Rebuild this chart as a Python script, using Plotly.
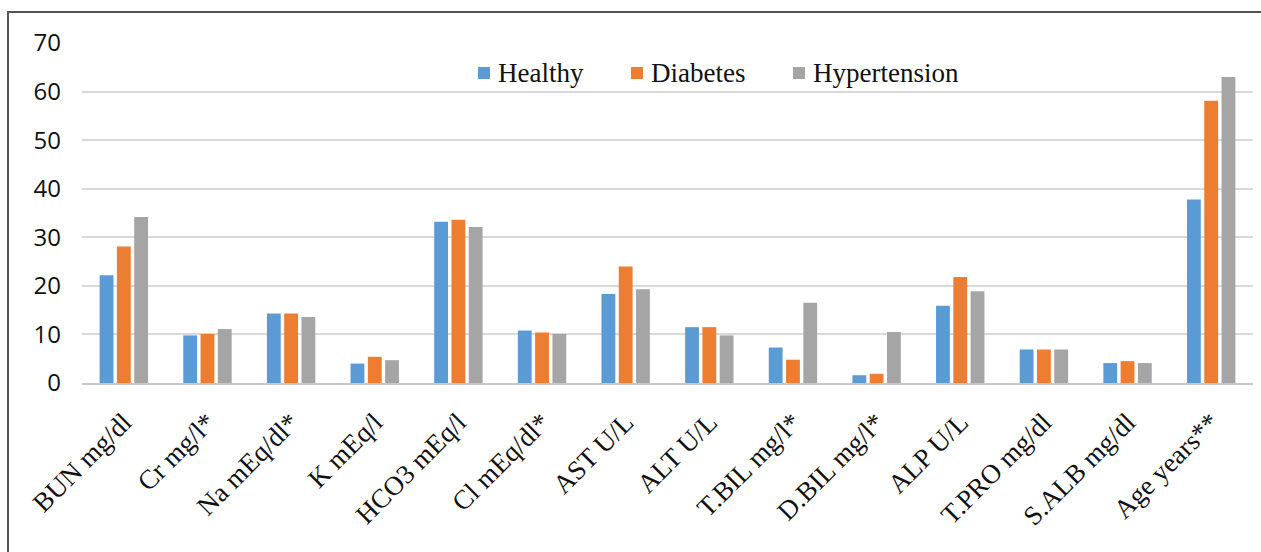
import plotly.graph_objects as go

categories = ["BUN mg/dl", "Cr mg/l*", "Na mEq/dl*", "K mEq/l", "HCO3 mEq/l",
              "Cl mEq/dl*", "AST U/L", "ALT U/L", "T.BIL mg/l*", "D.BIL mg/l*",
              "ALP U/L", "T.PRO mg/dl", "S.ALB mg/dl", "Age years**"]
healthy = [22.2, 9.8, 14.3, 4.0, 33.2, 10.8, 18.3, 11.5, 7.3, 1.6, 15.9, 6.9, 4.1, 37.8]
diabetes = [28.1, 10.1, 14.3, 5.4, 33.6, 10.4, 24.0, 11.5, 4.8, 1.9, 21.8, 6.9, 4.5, 58.1]
hypertension = [34.2, 11.1, 13.6, 4.7, 32.1, 10.1, 19.3, 9.8, 16.5, 10.5, 18.9, 6.9, 4.1, 63.0]
y_ticks = [0, 10, 20, 30, 40, 50, 60, 70]

series = [("Healthy", healthy, "#5B9BD5"),
          ("Diabetes", diabetes, "#ED7D31"),
          ("Hypertension", hypertension, "#A5A5A5")]

serif = "Liberation Serif, Times New Roman, serif"
sans = "Open Sans, DejaVu Sans, sans-serif"

# plot area in pixels, used to place the key inside the chart
W, H = 1261, 552
ML, MR, MT, MB = 82, 8, 43, 169
PW, PH = W - ML - MR, H - MT - MB


def px_x(px):
    return (px - ML) / PW


def px_y(py):
    return 1 - (py - MT) / PH


fig = go.Figure()
for name, vals, color in series:
    fig.add_trace(go.Bar(x=categories, y=vals, name=name, showlegend=False,
                         marker=dict(color=color, line=dict(width=0))))

# key: a coloured square followed by the series name, in a row near the top
key_left = [478, 631, 793]
key_y = 73
shapes = [dict(type="rect", xref="paper", yref="paper",
               x0=-74 / PW, x1=1.2, y0=-0.6, y1=px_y(12),
               line=dict(color="#555555", width=2), fillcolor="rgba(0,0,0,0)",
               layer="below")]
annotations = []
for (name, _, color), left in zip(series, key_left):
    shapes.append(dict(type="rect", xref="paper", yref="paper",
                       x0=px_x(left), x1=px_x(left + 12),
                       y0=px_y(key_y + 6), y1=px_y(key_y - 6),
                       line=dict(width=0), fillcolor=color))
    annotations.append(dict(text=name, xref="paper", yref="paper",
                            x=px_x(left + 18), y=px_y(key_y), xanchor="left",
                            yanchor="middle", showarrow=False,
                            font=dict(family=serif, size=27, color="#111111")))

fig.update_layout(
    width=W, height=H,
    margin=dict(l=ML, r=MR, t=MT, b=MB),
    paper_bgcolor="white", plot_bgcolor="white",
    barmode="group", bargap=0.38, bargroupgap=0.2,
    font=dict(family=serif, color="#111111"),
    xaxis=dict(tickangle=-45, tickfont=dict(family=serif, size=27, color="#111111"),
               showgrid=False, showline=True, linecolor="#C8C8C8", linewidth=1.5,
               ticks="", ticklabelstandoff=11),
    yaxis=dict(range=[0, 70], tickvals=y_ticks, showgrid=True, gridcolor="#D9D9D9",
               gridwidth=1.5, zeroline=False, showline=False, ticks="",
               tickfont=dict(family=sans, size=24, color="#111111"),
               ticklabelstandoff=20),
    shapes=shapes,
    annotations=annotations,
)

fig.write_html("out.html")
